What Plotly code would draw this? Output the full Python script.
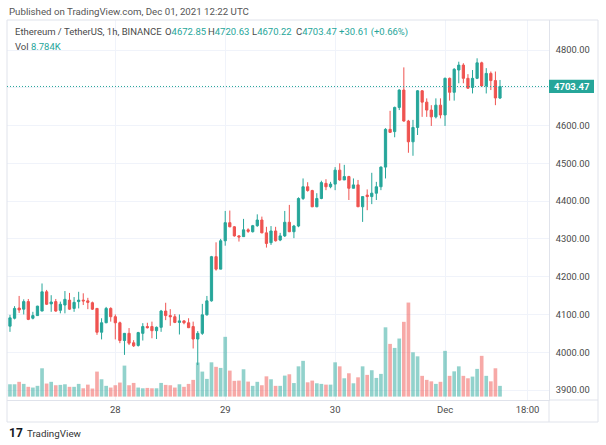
import plotly.graph_objects as go
import pandas as pd

# ---------------- data ----------------
start_time = "2021-11-27 01:00"
open_ = [4069, 4090, 4117, 4114, 4134, 4090, 4097, 4109, 4160, 4128,
         4134, 4111, 4125, 4138, 4116, 4134, 4138, 4136, 4131, 4116,
         4053, 4078, 4116, 4094, 4078, 4031, 4050, 4025, 4018, 4050,
         4068, 4068, 4057, 4066, 4109, 4097, 4094, 4079, 4083, 4078,
         4068, 4035, 4050, 4099, 4136, 4253, 4220, 4295, 4343, 4332,
         4308, 4306, 4324, 4319, 4335, 4350, 4316, 4290, 4321, 4297,
         4308, 4344, 4319, 4334, 4407, 4438, 4428, 4385, 4407, 4447,
         4438, 4445, 4482, 4456, 4465, 4434, 4443, 4385, 4416, 4412,
         4421, 4438, 4490, 4590, 4584, 4648, 4694, 4612, 4557, 4595,
         4692, 4662, 4641, 4623, 4654, 4628, 4725, 4688, 4747, 4760,
         4725, 4701, 4725, 4766, 4705, 4738, 4719, 4672.85]
high = [4099, 4122, 4149, 4140, 4141, 4107, 4123, 4182, 4165, 4151,
        4141, 4134, 4162, 4157, 4146, 4160, 4156, 4144, 4134, 4117,
        4090, 4120, 4119, 4100, 4081, 4051, 4064, 4032, 4054, 4077,
        4078, 4081, 4068, 4112, 4131, 4114, 4101, 4100, 4085, 4090,
        4081, 4056, 4128, 4149, 4255, 4291, 4300, 4374, 4375, 4334,
        4310, 4353, 4328, 4337, 4365, 4359, 4332, 4334, 4332, 4316,
        4374, 4390, 4337, 4410, 4460, 4450, 4430, 4421, 4454, 4458,
        4451, 4490, 4500, 4496, 4467, 4460, 4456, 4412, 4431, 4475,
        4451, 4492, 4593, 4639, 4650, 4696, 4754, 4615, 4615, 4694,
        4694, 4672, 4654, 4672, 4672, 4727, 4727, 4752, 4769, 4765,
        4736, 4747, 4778, 4769, 4752, 4743, 4743, 4720.63]
low = [4054, 4087, 4104, 4100, 4085, 4087, 4096, 4109, 4125, 4107,
       4107, 4103, 4103, 4112, 4107, 4116, 4125, 4114, 4112, 4046,
       4034, 4077, 4081, 4034, 4024, 3993, 4019, 4014, 4015, 4031,
       4063, 4037, 4035, 4054, 4085, 4070, 4077, 4047, 4074, 4064,
       4010, 3966, 4046, 4097, 4134, 4216, 4220, 4282, 4331, 4306,
       4293, 4306, 4316, 4317, 4332, 4315, 4277, 4284, 4293, 4294,
       4305, 4318, 4302, 4331, 4403, 4425, 4384, 4384, 4405, 4429,
       4434, 4429, 4454, 4456, 4403, 4434, 4385, 4345, 4376, 4392,
       4403, 4429, 4460, 4581, 4569, 4641, 4610, 4528, 4520, 4575,
       4623, 4623, 4599, 4619, 4619, 4599, 4666, 4666, 4712, 4712,
       4697, 4685, 4723, 4703, 4685, 4694, 4654, 4670.22]
close = [4091, 4116, 4112, 4134, 4087, 4097, 4122, 4160, 4127, 4133,
         4109, 4127, 4140, 4114, 4132, 4138, 4136, 4132, 4114, 4053,
         4078, 4116, 4094, 4078, 4031, 4050, 4024, 4017, 4052, 4068,
         4065, 4057, 4066, 4109, 4097, 4094, 4079, 4083, 4078, 4065,
         4035, 4050, 4099, 4136, 4253, 4220, 4295, 4343, 4332, 4308,
         4305, 4324, 4320, 4335, 4350, 4316, 4288, 4321, 4295, 4308,
         4344, 4319, 4334, 4407, 4438, 4428, 4385, 4407, 4449, 4438,
         4445, 4482, 4456, 4465, 4434, 4443, 4385, 4412, 4412, 4421,
         4438, 4490, 4590, 4582, 4648, 4694, 4612, 4557, 4595, 4692,
         4662, 4641, 4623, 4654, 4628, 4725, 4688, 4749, 4760, 4725,
         4699, 4725, 4766, 4705, 4738, 4719, 4673, 4703.47]
volume_k = [10.1, 10.1, 12.1, 10.4, 8.0, 7.4, 8.8, 23.2, 10.7, 12.1,
            9.3, 9.6, 10.1, 8.0, 8.0, 10.4, 6.8, 9.8, 6.6, 20.5,
            14.2, 8.8, 7.4, 9.3, 11.5, 25.4, 9.3, 11.2, 7.4, 6.8,
            7.1, 6.8, 6.8, 11.2, 9.6, 9.3, 7.4, 10.1, 8.0, 10.4,
            13.7, 27.9, 20.5, 14.5, 28.1, 24.4, 23.5, 49.0, 21.3, 12.9,
            13.1, 22.4, 12.3, 8.8, 12.1, 9.3, 16.6, 14.2, 8.8, 8.8,
            17.2, 18.3, 11.1, 24.8, 29.3, 11.7, 13.1, 10.9, 10.4, 9.8,
            9.8, 28.1, 24.8, 15.0, 19.1, 10.9, 15.8, 24.8, 17.8, 21.6,
            15.3, 18.6, 56.8, 43.2, 39.9, 47.6, 61.3, 77.1, 36.3, 33.0,
            17.0, 13.7, 12.5, 10.4, 12.1, 37.5, 17.0, 20.7, 24.8, 17.0,
            15.0, 16.4, 22.7, 33.4, 17.0, 12.5, 23.2, 8.784]

price_ticks = [3900, 4000, 4100, 4200, 4300, 4400, 4500, 4600, 4700, 4800]
price_tick_text = ["3900.00", "4000.00", "4100.00", "4200.00", "4300.00",
                   "4400.00", "4500.00", "4600.00", "", "4800.00"]
time_ticks = ["2021-11-28 00:00", "2021-11-29 00:00", "2021-11-30 00:00",
              "2021-12-01 00:00", "2021-12-01 18:00"]
time_tick_text = ["28", "29", "30", "Dec", "18:00"]
last_price = 4703.47

# ---------------- styling ----------------
UP = "#26a69a"
DOWN = "#ef5350"
UP_VOL = "rgba(38,166,154,0.5)"
DOWN_VOL = "rgba(239,83,80,0.5)"
GRID = "#f0f3fa"
FRAME = "#e0e3eb"
TEXT = "#4a4a4a"
FONT = "Roboto"

W, H = 606, 445
L, R, T, B = 7, 549, 20, 400  # plot area in pixels


def px(x):
    return (x - L) / (R - L)


def py(y):
    return (B - y) / (B - T)


times = pd.date_range(start_time, periods=len(close), freq="h")
vol_colors = [UP_VOL if c >= o else DOWN_VOL for o, c in zip(open_, close)]

fig = go.Figure()
fig.add_trace(go.Bar(
    x=times, y=volume_k, yaxis="y2", marker_color=vol_colors,
    marker_line_width=0, width=3600000 * 0.8, hoverinfo="skip",
))
fig.add_trace(go.Candlestick(
    x=times, open=open_, high=high, low=low, close=close,
    increasing=dict(line=dict(color=UP, width=1), fillcolor=UP),
    decreasing=dict(line=dict(color=DOWN, width=1), fillcolor=DOWN),
    whiskerwidth=0,
))

x0 = pd.Timestamp(start_time) - pd.Timedelta(minutes=39)
x1 = pd.Timestamp(start_time) + pd.Timedelta(hours=117.7)

fig.update_layout(
    width=W, height=H,
    margin=dict(l=L, r=W - R, t=T, b=H - B),
    paper_bgcolor="white", plot_bgcolor="white",
    showlegend=False,
    font=dict(family=FONT, size=9.5, color=TEXT),
    boxgap=0.3,
    xaxis=dict(
        type="date", range=[x0, x1], rangeslider=dict(visible=False),
        tickvals=time_ticks, ticktext=time_tick_text,
        showgrid=True, gridcolor=GRID, gridwidth=1,
        showline=True, linecolor=FRAME, linewidth=1,
        ticks="", ticklabelstandoff=1, zeroline=False,
        tickfont=dict(size=9.5, color=TEXT),
    ),
    yaxis=dict(
        side="right", range=[3873.6, 4879.4],
        tickvals=price_ticks, ticktext=price_tick_text,
        showgrid=True, gridcolor=GRID, gridwidth=1,
        showline=True, linecolor=FRAME, linewidth=1,
        ticks="", ticklabelstandoff=4, zeroline=False,
        tickfont=dict(size=9.3, color=TEXT),
    ),
    yaxis2=dict(
        overlaying="y", range=[-2.8, 308.8], showgrid=False,
        showticklabels=False, zeroline=False, showline=False,
    ),
)

shapes = [
    # outer frame
    dict(type="rect", xref="paper", yref="paper", x0=px(7), x1=px(598),
         y0=py(422), y1=py(20), line=dict(color=FRAME, width=1),
         layer="above"),
    # corner separator under price axis
    dict(type="line", xref="paper", yref="paper", x0=px(549), x1=px(549),
         y0=py(400), y1=py(422), line=dict(color=FRAME, width=1)),
    dict(type="line", xref="paper", yref="paper", x0=px(549), x1=px(598),
         y0=py(400), y1=py(400), line=dict(color=FRAME, width=1)),
    # last price dotted line
    dict(type="line", xref="paper", yref="y", x0=0, x1=1,
         y0=last_price, y1=last_price,
         line=dict(color=UP, width=1, dash="1px,2px"), layer="above"),
    # last price label box
    dict(type="rect", xref="paper", yref="y", x0=px(549), x1=px(594),
         y0=last_price - 17.5, y1=last_price + 17.5,
         fillcolor=UP, line=dict(width=0), layer="above"),
]
fig.update_layout(shapes=shapes)

g = "<span style='color:%s'>%%s</span>" % UP
ann = [
    dict(x=px(8), y=py(11), text="Published on TradingView.com, Dec 01, 2021 12:22 UTC",
         font=dict(size=9.7, color="#555555")),
    dict(x=px(14), y=py(32), text="Ethereum / TetherUS, 1h, BINANCE"),
    dict(x=px(164), y=py(32), text="O" + g % "4672.85"),
    dict(x=px(207), y=py(32), text="H" + g % "4720.63"),
    dict(x=px(251), y=py(32), text="L" + g % "4670.22"),
    dict(x=px(295), y=py(32), text="C" + g % "4703.47" + " " + g % "+30.61 (+0.66%)"),
    dict(x=px(14), y=py(46), text="Vol " + g % "8.784K"),
    dict(x=px(571.5), y=last_price, yref="y", xanchor="center",
         text="<b>4703.47</b>", font=dict(size=9.5, color="white")),
    dict(x=px(8), y=py(433), text="<b>17</b>",
         font=dict(family="Roboto", size=12, color="#131722")),
    dict(x=px(26), y=py(433), text="TradingView", font=dict(size=9.8, color="#333333")),
]
for a in ann:
    a.setdefault("xref", "paper")
    a.setdefault("yref", "paper")
    a.setdefault("xanchor", "left")
    a.setdefault("yanchor", "middle")
    a.setdefault("showarrow", False)
    a.setdefault("borderpad", 0)
    a.setdefault("font", dict(size=9.5, color=TEXT))
    fig.add_annotation(**a)

fig.write_html("out.html", config={"displayModeBar": False},
               post_script="document.body.style.margin='0px';")
